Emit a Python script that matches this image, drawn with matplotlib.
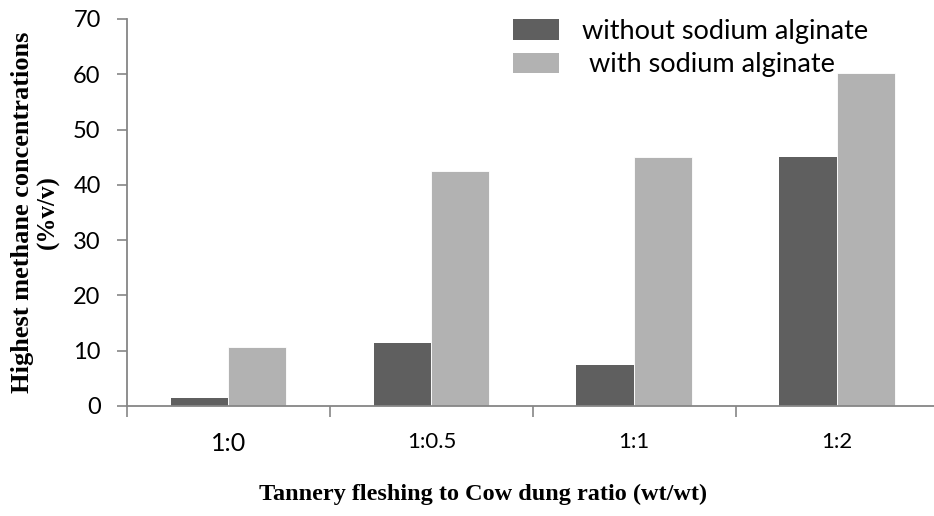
import matplotlib
matplotlib.use("Agg")
import matplotlib.pyplot as plt
from matplotlib.patches import Patch
import numpy as np

# Feed ratios and peak methane concentrations
categories = ["1:0", "1:0.5", "1:1", "1:2"]
without_alginate = [1.5, 11.4, 7.4, 45.0]
with_alginate = [10.7, 42.5, 45.0, 60.2]
series_labels = ["without sodium alginate", " with sodium alginate"]
yticks = [0, 10, 20, 30, 40, 50, 60, 70]

dark = "#5f5f5f"
light = "#b2b2b2"
axis_grey = "#868686"

fig = plt.figure(figsize=(9.34, 5.16), dpi=100)
ax = fig.add_axes([0.136, 0.2132, 0.869, 0.7500])

x = np.arange(len(categories))
w = 0.285
ax.bar(x - w / 2, without_alginate, width=w, color=dark, edgecolor="none", zorder=2)
ax.bar(x + w / 2, with_alginate, width=w, color=light, edgecolor="white",
       linewidth=0.6, zorder=2)

ax.set_xlim(-0.5, len(categories) - 0.5)
ax.set_ylim(0, 70)

for s in ("top", "right"):
    ax.spines[s].set_visible(False)
for s in ("left", "bottom"):
    ax.spines[s].set_color(axis_grey)
    ax.spines[s].set_linewidth(1.3)

ax.set_yticks(yticks)
ax.set_yticklabels([str(v) for v in yticks], fontfamily="Lato", fontsize=17)
ax.tick_params(axis="y", direction="out", length=7, width=1.2, color=axis_grey, pad=12)

# category boundaries carry tick marks, centres carry the labels
ax.set_xticks(np.arange(len(categories) + 1) - 0.5)
ax.set_xticklabels([])
ax.tick_params(axis="x", which="major", direction="out", length=8, width=1.2, color=axis_grey)
ax.set_xticks(x, minor=True)
ax.set_xticklabels(categories, minor=True)
ax.tick_params(axis="x", which="minor", length=0, pad=19)
for i, lab in enumerate(ax.get_xticklabels(minor=True)):
    lab.set_fontfamily("Lato")
    lab.set_fontsize(18 if i == 0 else 16)

fig.text(0.517, 0.041, "Tannery fleshing to Cow dung ratio (wt/wt)",
         ha="center", va="center", fontfamily="Liberation Serif",
         fontweight="bold", fontsize=17.5)
fig.text(0.0236, 0.589, "Highest methane concentrations", rotation=90,
         ha="center", va="center", fontfamily="Liberation Serif",
         fontweight="bold", fontsize=19)
fig.text(0.0514, 0.589, "(%v/v)", rotation=90,
         ha="center", va="center", fontfamily="Liberation Serif",
         fontweight="bold", fontsize=18)

handles = [Patch(facecolor=dark, edgecolor="none"), Patch(facecolor=light, edgecolor="none")]
leg = ax.legend(handles, series_labels, loc="upper left", bbox_to_anchor=(0.4756, 1.0),
                frameon=False, prop={"family": "Lato", "size": 19.5},
                handlelength=1.7, handleheight=0.78, handletextpad=0.85,
                labelspacing=0.3, borderaxespad=0, borderpad=0)

fig.savefig("out.png", dpi=100)
